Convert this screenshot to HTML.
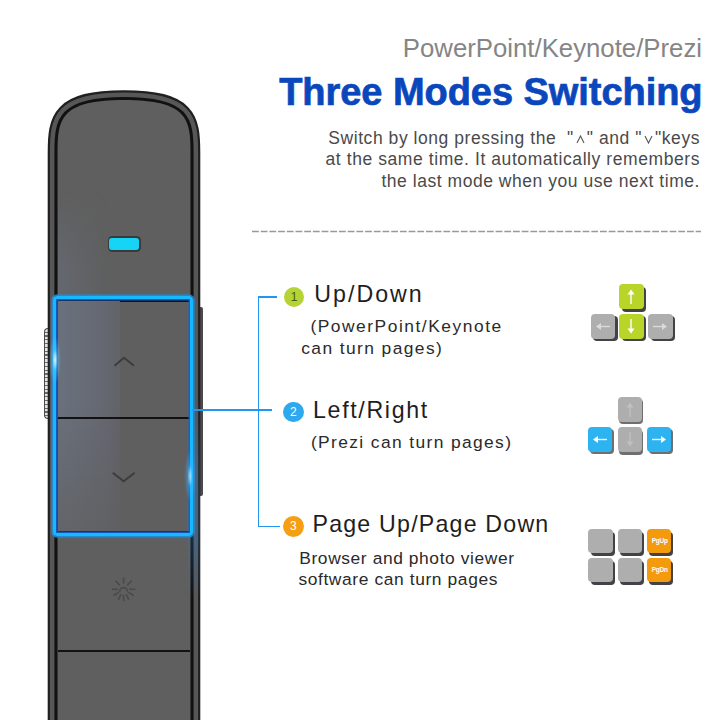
<!DOCTYPE html>
<html><head><meta charset="utf-8">
<style>
html,body{margin:0;padding:0;background:#fff;}
body{width:720px;height:720px;position:relative;overflow:hidden;font-family:"Liberation Sans",sans-serif;}
.a{position:absolute;}
.t{position:absolute;white-space:pre;}
</style></head><body>

<!-- ============ DEVICE ============ -->
<!-- side buttons -->
<div class="a" style="left:44px;top:328px;width:3.5px;height:88.5px;border:1px solid #4a4a4a;border-right:none;border-radius:4px 0 0 4px;background:repeating-linear-gradient(#e4e4e4 0 2.6px,#6a6a6a 2.6px 3.8px);"></div>
<div class="a" style="left:199px;top:307px;width:3.5px;height:189px;background:#4a4a4a;border-radius:0 2px 2px 0;"></div>

<!-- outer body -->
<svg class="a" style="left:0;top:0" width="720" height="720">
<path d="M57.5,760 L57.5,152.8 C57.5,119.5 60.2,100 124,100 C187.8,100 190.5,119.5 190.5,152.8 L190.5,760 Z" fill="#5f5f5f" stroke="#202020" stroke-width="19.6"/>
<path d="M57.5,760 L57.5,152.8 C57.5,119.5 60.2,100 124,100 C187.8,100 190.5,119.5 190.5,152.8 L190.5,760 Z" fill="#5f5f5f" stroke="#575757" stroke-width="15.2"/>
<path d="M57.5,760 L57.5,152.8 C57.5,119.5 60.2,100 124,100 C187.8,100 190.5,119.5 190.5,152.8 L190.5,760 Z" fill="#5f5f5f" stroke="#111" stroke-width="6.2"/>
<path d="M57.5,760 L57.5,152.8 C57.5,119.5 60.2,100 124,100 C187.8,100 190.5,119.5 190.5,152.8 L190.5,760 Z" fill="#5f5f5f"/>
</svg>
<!-- top glow left -->
<div class="a" style="left:57.5px;top:190px;width:50px;height:110px;background:linear-gradient(to right,rgba(120,135,165,0.22),rgba(120,130,150,0));-webkit-mask-image:linear-gradient(to bottom,transparent,#000 70%);"></div>

<!-- LED -->
<div class="a" style="left:107.5px;top:236px;width:33px;height:15.5px;background:#3a3a3a;border-radius:4.5px;"></div>
<div class="a" style="left:109px;top:237.5px;width:30px;height:12.5px;background:#16d4f6;border-radius:3px;"></div>

<!-- button top separator -->
<div class="a" style="left:58px;top:299.3px;width:132px;height:2.4px;background:#101418;"></div>
<!-- up/down button gradient -->
<div class="a" style="left:58px;top:301px;width:62px;height:230px;background:linear-gradient(to right,#6a717d,#656770 80%,#626267 100%);-webkit-mask-image:linear-gradient(to bottom,#000 0,#000 45%,rgba(0,0,0,0.35) 100%);"></div>
<!-- right glow on body band -->
<div class="a" style="left:186px;top:400px;width:14px;height:200px;background:linear-gradient(to right,rgba(40,150,255,0) 0,rgba(40,150,255,0.28) 50%,rgba(40,130,230,0.18) 100%);-webkit-mask-image:linear-gradient(to bottom,transparent 0,#000 35%,#000 65%,transparent 100%);"></div>
<!-- divider up/down -->
<div class="a" style="left:58px;top:417px;width:132px;height:2.2px;background:#121212;"></div>
<!-- divider under down -->
<div class="a" style="left:58px;top:531px;width:132px;height:4px;background:#121212;"></div>
<!-- divider sun/bottom -->
<div class="a" style="left:58px;top:649.5px;width:132px;height:2.5px;background:#121212;"></div>
<!-- left inner black line below top -->

<!-- chevrons -->
<svg class="a" style="left:0;top:0" width="720" height="720" viewBox="0 0 720 720">
  <polyline points="114.6,365.8 124,357.8 134,365.8" fill="none" stroke="#3c3c3c" stroke-width="1.9"/>
  <polyline points="112.8,472.8 123.6,481.2 134.7,472.8" fill="none" stroke="#3c3c3c" stroke-width="1.9"/>
  <g stroke="#4a4a4a" stroke-width="1.6" fill="none" stroke-linecap="round" style="filter:blur(0.35px)">
<path d="M119.7,591.5 A3.9,3.9 0 0 1 127.5,591.5"/>
<line x1="123.6" y1="583.1" x2="123.6" y2="578.0"/>
<line x1="119.4" y1="584.8" x2="115.9" y2="581.0"/>
<line x1="127.8" y1="584.8" x2="131.3" y2="581.0"/>
<line x1="117.4" y1="589.3" x2="112.3" y2="589.3"/>
<line x1="129.8" y1="589.3" x2="134.9" y2="589.3"/>
<line x1="118.3" y1="592.6" x2="114.0" y2="595.3"/>
<line x1="128.9" y1="592.6" x2="133.2" y2="595.3"/>
<line x1="120.8" y1="594.8" x2="118.5" y2="599.4"/>
<line x1="126.4" y1="594.8" x2="128.7" y2="599.4"/>
<line x1="123.6" y1="595.5" x2="123.6" y2="600.6"/>
</g>

</svg>

<!-- blue box -->
<div class="a" style="left:53.3px;top:295.7px;width:133.3px;height:234.6px;border:3px solid #16b8ff;border-radius:4px;box-shadow:0 0 0 1.6px rgba(36,140,215,0.85),0 0 3px 1px rgba(40,150,230,0.35),inset 0 0 0 1.5px rgba(22,96,205,0.92);"></div>
<div class="a" style="left:49px;top:335px;width:12px;height:50px;background:radial-gradient(ellipse at center,rgba(230,250,255,0.95) 0,rgba(80,200,255,0.5) 30%,transparent 70%);"></div>
<div class="a" style="left:184px;top:450px;width:12px;height:52px;background:radial-gradient(ellipse at center,rgba(200,240,255,0.8) 0,rgba(60,180,255,0.4) 30%,transparent 70%);"></div>

<!-- ============ TEXT ============ -->
<div class="t" style="right:18px;top:32.9px;font-size:25.75px;line-height:30px;color:#858585;">PowerPoint/Keynote/Prezi</div>
<div class="t" style="right:17.5px;top:71.6px;font-size:38px;line-height:40px;font-weight:bold;color:#0b47bc;-webkit-text-stroke:0.7px #0b47bc;letter-spacing:-0.05px;">Three Modes Switching</div>

<div class="t" style="right:20px;top:128.2px;font-size:17.5px;line-height:21.5px;color:#4a4a4a;letter-spacing:0.55px;">Switch by long pressing the  "<svg width="9" height="10" style="display:inline-block;vertical-align:0px;margin:0 2px"><polyline points="1,9 4.5,2 8,9" fill="none" stroke="#555" stroke-width="1.1"/></svg>" and "<svg width="9" height="10" style="display:inline-block;vertical-align:0px;margin:0 2px"><polyline points="1,2 4.5,9 8,2" fill="none" stroke="#555" stroke-width="1.1"/></svg>"keys</div>
<div class="t" style="right:20px;top:149.3px;font-size:17.5px;line-height:21.5px;color:#4a4a4a;letter-spacing:0.575px;">at the same time. It automatically remembers</div>
<div class="t" style="right:20px;top:171px;font-size:17.5px;line-height:21.5px;color:#4a4a4a;letter-spacing:0.54px;">the last mode when you use next time.</div>

<!-- dashed line -->
<svg class="a" style="left:0;top:0" width="720" height="720">
  <line x1="252" y1="231.5" x2="701" y2="231.5" stroke="#999" stroke-width="1.6" stroke-dasharray="6.8 1.9" style="filter:blur(0.3px)"/>
</svg>

<!-- bracket -->
<div class="a" style="left:257.5px;top:296px;width:1.6px;height:231px;background:#2196f3;"></div>
<div class="a" style="left:257.5px;top:296px;width:19.5px;height:1.6px;background:#2196f3;"></div>
<div class="a" style="left:192px;top:409.2px;width:80px;height:1.6px;background:#2196f3;"></div>
<div class="a" style="left:257.5px;top:525.5px;width:22.5px;height:1.6px;background:#2196f3;"></div>

<!-- circles -->
<div class="a" style="left:283.7px;top:286.7px;width:20.6px;height:20.6px;border-radius:50%;background:#b5d334;color:#4a5a10;font-size:12px;line-height:20.6px;text-align:center;">1</div>
<div class="a" style="left:283px;top:401.7px;width:20.8px;height:20.8px;border-radius:50%;background:#2ea9ef;color:#fff;font-size:12px;line-height:20.8px;text-align:center;">2</div>
<div class="a" style="left:283px;top:516px;width:20.8px;height:20.8px;border-radius:50%;background:#f5a012;color:#fff;font-size:12px;line-height:20.8px;text-align:center;">3</div>

<div class="t" style="left:314.30px;top:281.46px;font-size:23.2px;line-height:26px;color:#1e1e1e;letter-spacing:2.000px;">Up/Down</div>
<div class="t" style="left:310.40px;top:316.47px;font-size:17.4px;line-height:21px;color:#2a2a2a;letter-spacing:1.522px;">(PowerPoint/Keynote</div>
<div class="t" style="left:301.20px;top:337.67px;font-size:17.4px;line-height:21px;color:#2a2a2a;letter-spacing:1.414px;">can turn pages)</div>

<div class="t" style="left:313.00px;top:397.06px;font-size:23.2px;line-height:26px;color:#1e1e1e;letter-spacing:1.667px;">Left/Right</div>
<div class="t" style="left:310.90px;top:432.37px;font-size:17.4px;line-height:21px;color:#2a2a2a;letter-spacing:1.381px;">(Prezi can turn pages)</div>

<div class="t" style="left:312.50px;top:511.36px;font-size:23.2px;line-height:26px;color:#1e1e1e;letter-spacing:1.200px;">Page Up/Page Down</div>
<div class="t" style="left:299.30px;top:548.37px;font-size:17.4px;line-height:21px;color:#2a2a2a;letter-spacing:0.591px;">Browser and photo viewer</div>
<div class="t" style="left:298.40px;top:569.47px;font-size:17.4px;line-height:21px;color:#2a2a2a;letter-spacing:0.609px;">software can turn pages</div>

<!-- ============ KEYS ============ -->
<!--KEYS-->
<div class="a" style="left:621.5px;top:286.5px;width:24.5px;height:25px;background:#434347;border-radius:4px;"></div>
<div class="a" style="left:619.0px;top:284.0px;width:24.5px;height:25px;background:#bad52a;border-radius:4px;"><svg width="24" height="25" style="position:absolute;left:0;top:0;opacity:1.0"><line x1="12" y1="9" x2="12" y2="20" stroke="#fff" stroke-width="1.4"/><path d="M8.5,10.5 L12,5.5 L15.5,10.5 Z" fill="#fff"/></svg></div>
<div class="a" style="left:593.0px;top:316.0px;width:24.5px;height:25px;background:#434347;border-radius:4px;"></div>
<div class="a" style="left:590.5px;top:313.5px;width:24.5px;height:25px;background:#aeaeae;border-radius:4px;"><svg width="24" height="25" style="position:absolute;left:0;top:0;opacity:0.55"><line x1="9" y1="12.5" x2="19" y2="12.5" stroke="#fff" stroke-width="1.4"/><path d="M10,9 L5,12.5 L10,16 Z" fill="#fff"/></svg></div>
<div class="a" style="left:621.5px;top:316.0px;width:24.5px;height:25px;background:#434347;border-radius:4px;"></div>
<div class="a" style="left:619.0px;top:313.5px;width:24.5px;height:25px;background:#bad52a;border-radius:4px;"><svg width="24" height="25" style="position:absolute;left:0;top:0;opacity:1.0"><line x1="12" y1="5" x2="12" y2="16" stroke="#fff" stroke-width="1.4"/><path d="M8.5,14.5 L12,19.5 L15.5,14.5 Z" fill="#fff"/></svg></div>
<div class="a" style="left:650.8px;top:316.0px;width:24.5px;height:25px;background:#434347;border-radius:4px;"></div>
<div class="a" style="left:648.3px;top:313.5px;width:24.5px;height:25px;background:#aeaeae;border-radius:4px;"><svg width="24" height="25" style="position:absolute;left:0;top:0;opacity:0.55"><line x1="5" y1="12.5" x2="15" y2="12.5" stroke="#fff" stroke-width="1.4"/><path d="M14,9 L19,12.5 L14,16 Z" fill="#fff"/></svg></div>
<div class="a" style="left:619.3px;top:399.3px;width:24px;height:25px;background:#6f6f6f;border-radius:4px;"></div>
<div class="a" style="left:617.8px;top:396.8px;width:24px;height:25px;background:#aeaeae;border-radius:4px;"><svg width="24" height="25" style="position:absolute;left:0;top:0;opacity:0.6"><line x1="12" y1="9" x2="12" y2="20" stroke="#ccc" stroke-width="1.4"/><path d="M8.5,10.5 L12,5.5 L15.5,10.5 Z" fill="#ccc"/></svg></div>
<div class="a" style="left:589.8px;top:429.0px;width:24px;height:25px;background:#6f6f6f;border-radius:4px;"></div>
<div class="a" style="left:588.3px;top:426.5px;width:24px;height:25px;background:#2db4f0;border-radius:4px;"><svg width="24" height="25" style="position:absolute;left:0;top:0;opacity:1.0"><line x1="9" y1="12.5" x2="19" y2="12.5" stroke="#fff" stroke-width="1.4"/><path d="M10,9 L5,12.5 L10,16 Z" fill="#fff"/></svg></div>
<div class="a" style="left:619.3px;top:429.5px;width:24px;height:25px;background:#6f6f6f;border-radius:4px;"></div>
<div class="a" style="left:617.8px;top:427.0px;width:24px;height:25px;background:#aeaeae;border-radius:4px;"><svg width="24" height="25" style="position:absolute;left:0;top:0;opacity:0.6"><line x1="12" y1="5" x2="12" y2="16" stroke="#ccc" stroke-width="1.4"/><path d="M8.5,14.5 L12,19.5 L15.5,14.5 Z" fill="#ccc"/></svg></div>
<div class="a" style="left:648.5px;top:429.0px;width:24px;height:25px;background:#6f6f6f;border-radius:4px;"></div>
<div class="a" style="left:647.0px;top:426.5px;width:24px;height:25px;background:#2db4f0;border-radius:4px;"><svg width="24" height="25" style="position:absolute;left:0;top:0;opacity:1.0"><line x1="5" y1="12.5" x2="15" y2="12.5" stroke="#fff" stroke-width="1.4"/><path d="M14,9 L19,12.5 L14,16 Z" fill="#fff"/></svg></div>
<div class="a" style="left:590.8px;top:531.5px;width:24.3px;height:24.3px;background:#434347;border-radius:4px;"></div>
<div class="a" style="left:588.3px;top:529.0px;width:24.3px;height:24.3px;background:#aeaeae;border-radius:4px;"></div>
<div class="a" style="left:620.0px;top:531.5px;width:24.3px;height:24.3px;background:#434347;border-radius:4px;"></div>
<div class="a" style="left:617.5px;top:529.0px;width:24.3px;height:24.3px;background:#aeaeae;border-radius:4px;"></div>
<div class="a" style="left:649.2px;top:531.5px;width:24.3px;height:24.3px;background:#434347;border-radius:4px;"></div>
<div class="a" style="left:646.7px;top:529.0px;width:24.3px;height:24.3px;background:#f39b0d;border-radius:4px;"><div style="position:absolute;left:0;top:0;width:24px;line-height:24px;text-align:center;font-size:6.5px;font-weight:bold;color:#fff;letter-spacing:-0.3px;padding-left:1px;">PgUp</div></div>
<div class="a" style="left:590.8px;top:560.7px;width:24.3px;height:24.3px;background:#434347;border-radius:4px;"></div>
<div class="a" style="left:588.3px;top:558.2px;width:24.3px;height:24.3px;background:#aeaeae;border-radius:4px;"></div>
<div class="a" style="left:620.0px;top:560.7px;width:24.3px;height:24.3px;background:#434347;border-radius:4px;"></div>
<div class="a" style="left:617.5px;top:558.2px;width:24.3px;height:24.3px;background:#aeaeae;border-radius:4px;"></div>
<div class="a" style="left:649.2px;top:560.7px;width:24.3px;height:24.3px;background:#434347;border-radius:4px;"></div>
<div class="a" style="left:646.7px;top:558.2px;width:24.3px;height:24.3px;background:#f39b0d;border-radius:4px;"><div style="position:absolute;left:0;top:0;width:24px;line-height:24px;text-align:center;font-size:6.5px;font-weight:bold;color:#fff;letter-spacing:-0.3px;padding-left:1px;">PgDn</div></div>
<!--/KEYS-->
</body></html>
